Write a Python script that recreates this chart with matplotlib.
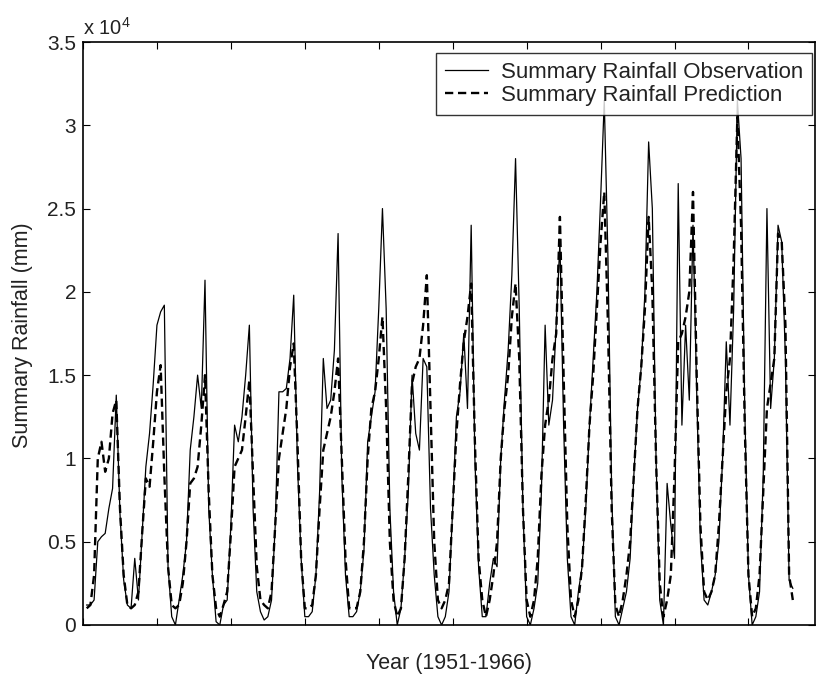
import matplotlib
matplotlib.use("Agg")
import matplotlib.pyplot as plt
import numpy as np

plt.rcParams['font.family'] = ['Liberation Sans', 'DejaVu Sans']
plt.rcParams['mathtext.fontset'] = 'custom'
plt.rcParams['mathtext.rm'] = 'Liberation Sans'

# monthly summary rainfall, 1951-1966, in units of 10^4 mm (one row per year)
obs = [
    0.12, 0.12, 0.15, 0.50, 0.53, 0.55, 0.70, 0.82, 1.38, 0.67, 0.27, 0.12,
    0.10, 0.40, 0.15, 0.55, 0.95, 1.15, 1.45, 1.80, 1.88, 1.92, 0.35, 0.05,
    0.00, 0.15, 0.30, 0.50, 1.05, 1.25, 1.50, 1.30, 2.07, 0.70, 0.30, 0.02,
    0.00, 0.12, 0.15, 0.60, 1.20, 1.10, 1.25, 1.50, 1.80, 0.70, 0.20, 0.08,
    0.03, 0.05, 0.15, 0.60, 1.40, 1.40, 1.42, 1.60, 1.98, 0.97, 0.40, 0.05,
    0.05, 0.08, 0.30, 0.80, 1.60, 1.30, 1.35, 1.65, 2.35, 0.90, 0.30, 0.05,
    0.05, 0.08, 0.20, 0.45, 1.10, 1.25, 1.40, 1.90, 2.50, 1.90, 0.70, 0.20,
    0.00, 0.10, 0.40, 0.80, 1.50, 1.15, 1.05, 1.60, 1.55, 0.70, 0.30, 0.05,
    0.00, 0.05, 0.20, 0.70, 1.25, 1.40, 1.75, 1.30, 2.40, 1.00, 0.35, 0.05,
    0.05, 0.25, 0.40, 0.35, 1.00, 1.35, 1.65, 2.10, 2.80, 1.90, 0.70, 0.05,
    0.00, 0.10, 0.25, 0.80, 1.80, 1.20, 1.35, 1.80, 2.30, 1.20, 0.40, 0.05,
    0.00, 0.20, 0.35, 0.70, 1.20, 1.60, 2.00, 2.55, 3.15, 2.20, 0.80, 0.05,
    0.00, 0.10, 0.20, 0.40, 0.90, 1.30, 1.55, 2.00, 2.90, 2.50, 1.00, 0.15,
    0.00, 0.85, 0.60, 0.40, 2.65, 1.20, 1.80, 1.35, 2.40, 1.40, 0.50, 0.15,
    0.12, 0.20, 0.30, 0.50, 1.00, 1.70, 1.20, 1.90, 3.15, 2.80, 1.30, 0.30,
    0.00, 0.05, 0.20, 0.90, 2.50, 1.30, 1.60, 2.40, 2.30, 1.60, 0.27, 0.22,
]

pred = [
    0.10, 0.12, 0.30, 1.00, 1.10, 0.92, 1.00, 1.27, 1.35, 0.70, 0.30, 0.12,
    0.10, 0.12, 0.20, 0.55, 0.88, 0.83, 1.10, 1.40, 1.56, 0.90, 0.35, 0.12,
    0.10, 0.12, 0.25, 0.50, 0.85, 0.88, 0.95, 1.20, 1.50, 0.80, 0.30, 0.10,
    0.05, 0.12, 0.20, 0.55, 0.95, 1.00, 1.05, 1.25, 1.47, 0.90, 0.35, 0.15,
    0.12, 0.10, 0.20, 0.60, 1.00, 1.15, 1.30, 1.55, 1.69, 1.10, 0.40, 0.10,
    0.10, 0.12, 0.30, 0.70, 1.05, 1.15, 1.25, 1.40, 1.60, 1.00, 0.40, 0.10,
    0.10, 0.10, 0.20, 0.50, 1.00, 1.30, 1.40, 1.60, 1.85, 1.30, 0.50, 0.15,
    0.05, 0.10, 0.40, 0.90, 1.45, 1.55, 1.60, 1.80, 2.10, 1.30, 0.50, 0.15,
    0.10, 0.15, 0.25, 0.70, 1.15, 1.45, 1.70, 1.85, 2.05, 1.10, 0.40, 0.15,
    0.05, 0.15, 0.30, 0.50, 1.00, 1.30, 1.50, 1.85, 2.05, 1.60, 0.70, 0.15,
    0.05, 0.15, 0.40, 0.90, 1.20, 1.35, 1.60, 1.75, 2.45, 1.50, 0.60, 0.15,
    0.05, 0.15, 0.35, 0.75, 1.20, 1.50, 1.90, 2.30, 2.60, 1.80, 0.70, 0.12,
    0.05, 0.15, 0.30, 0.50, 0.90, 1.30, 1.55, 1.90, 2.45, 2.00, 1.00, 0.25,
    0.05, 0.15, 0.30, 0.90, 1.70, 1.75, 1.85, 2.00, 2.60, 1.50, 0.60, 0.20,
    0.15, 0.20, 0.30, 0.60, 1.00, 1.40, 1.60, 2.20, 3.05, 2.40, 1.20, 0.30,
    0.05, 0.10, 0.30, 0.80, 1.30, 1.45, 1.60, 2.35, 2.30, 1.80, 0.30, 0.15,
]

months = np.arange(1, len(obs) + 1)
yticks = [0, 0.5, 1, 1.5, 2, 2.5, 3, 3.5]
ytick_labels = ['0', '0.5', '1', '1.5', '2', '2.5', '3', '3.5']

fig = plt.figure(figsize=(8.19, 6.87), dpi=100)
ax = fig.add_axes([83 / 819, 62 / 687, 732 / 819, 583 / 687])

ax.plot(months, obs, color='black', lw=0.9, label='Summary Rainfall Observation')
ax.plot(months, pred, color='black', lw=1.7, ls=(0, (3.5, 2)),
        label='Summary Rainfall Prediction')

ax.set_xlim(0, 198)
ax.set_ylim(0, 3.5)
ax.set_xticks(np.arange(0, 199, 20))
ax.set_xticklabels([])
ax.set_yticks(yticks)
ax.set_yticklabels(ytick_labels, fontsize=15, color='#222222')
ax.tick_params(direction='in', length=5, width=0.8, top=True, right=True, pad=5)
for s in ax.spines.values():
    s.set_linewidth(1.2)

ax.text(0.0, 1.006, r'x 10$^{4}$', transform=ax.transAxes, ha='left', va='bottom',
        fontsize=14.5, color='#222222')

fig.text(449 / 819, 1 - 664 / 687, 'Year (1951-1966)', ha='center', va='center',
         fontsize=15.5, color='#222222')
fig.text(23 / 819, 1 - 335 / 687, 'Summary Rainfall (mm)', ha='center', va='center',
         rotation=90, fontsize=15.5, color='#222222')

leg = ax.legend(loc='upper right', bbox_to_anchor=(812 / 819, 1 - 53 / 687),
                bbox_transform=fig.transFigure, borderaxespad=0, fontsize=16,
                frameon=True, fancybox=False, handlelength=1.9, handletextpad=0.6,
                labelspacing=0.1, borderpad=0.4)
leg.get_frame().set_edgecolor('black')
leg.get_frame().set_linewidth(1.0)
for t in leg.get_texts():
    t.set_color('#222222')

fig.savefig('out.png', dpi=100)
